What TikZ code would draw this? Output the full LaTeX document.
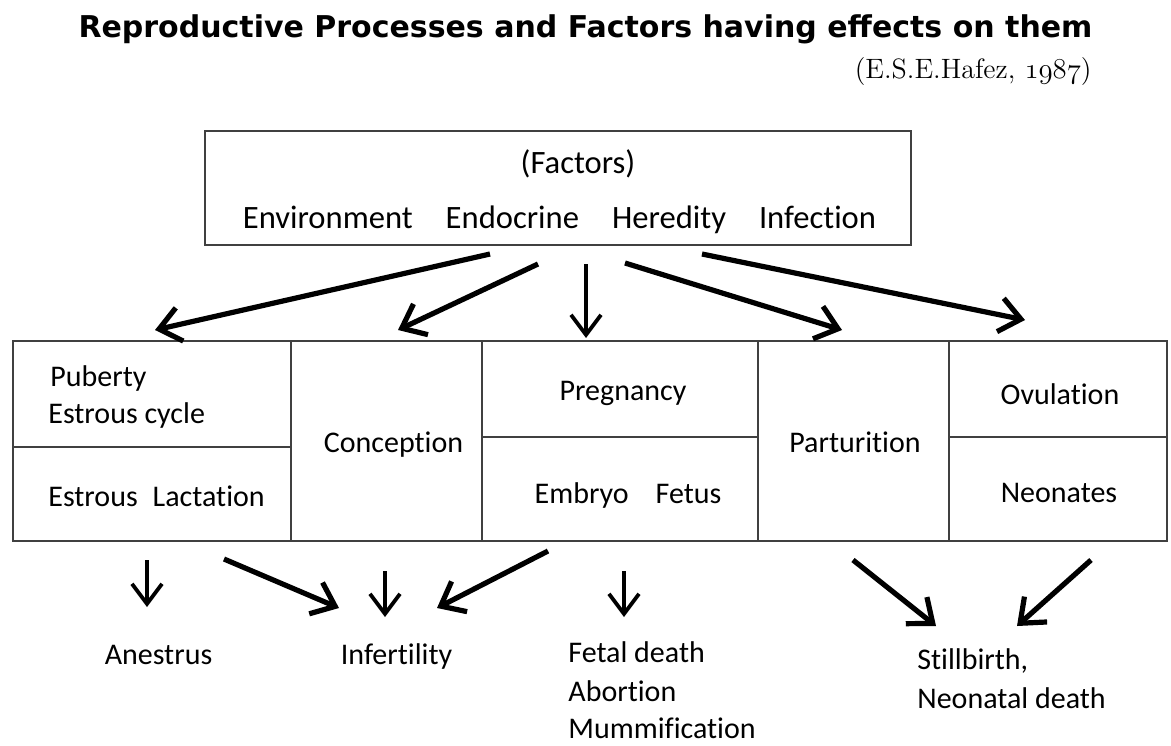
\documentclass[tikz,border=0pt]{standalone}
\usepackage{fontspec}
\newfontfamily\bodyfont{Carlito}[Ligatures=NoCommon]
\newfontfamily\headfont{DejaVu Sans}
\usepackage{tikz}
\usetikzlibrary{arrows.meta,positioning}
\tikzset{
    cell/.style={draw=black!75,line width=0.8pt,outer sep=0pt,inner sep=0pt},
    factorbox/.style={draw=black!75,line width=0.8pt,outer sep=0pt,inner sep=0pt,
        minimum width=353pt,minimum height=57pt},
    txt/.style={inner sep=0pt,font=\bodyfont\fontsize{15}{18}\selectfont},
    ftxt/.style={inner sep=0pt,font=\bodyfont\fontsize{16.3}{20}\selectfont},
    arr/.style={-{Straight Barb[length=10.5pt,width=17pt]},line width=2.6pt},
    arrv/.style={-{Straight Barb[length=10pt,width=15pt]},line width=1.9pt}
}

\begin{document}
\begin{tikzpicture}[x=0.5pt,y=-0.5pt]
    \useasboundingbox (0,0) rectangle (1171,745);

    % title
    \node[inner sep=0pt,anchor=base,font=\headfont\bfseries\fontsize{15}{18}\selectfont] (title) at (585.5,37)
        {Reproductive Processes and Factors having effects on them};
    \node[inner sep=0pt,anchor=base east,font=\fontsize{14}{17}\selectfont] (source) at (1092,78)
        {(E.S.E.Hafez, $\mathnormal{1987}$)};

    % factors
    \node[factorbox] (factors) at (558,188) {};
    \node[ftxt,anchor=base] (ftitle) at (578,173) {(Factors)};
    \node[ftxt,anchor=base] (flist) at (559.5,228)
        {Environment\hspace{16.5pt}Endocrine\hspace{16.5pt}Heredity\hspace{16.5pt}Infection};

    % processes
    \node[cell,minimum width=139pt,minimum height=53pt] (puberty) at (152,394) {};
    \node[cell,minimum width=139pt,minimum height=47pt,below=0pt of puberty] (lactation) {};
    \node[cell,minimum width=95.5pt,minimum height=100pt,anchor=north west] (conception) at (puberty.north east) {};
    \node[cell,minimum width=138pt,minimum height=48pt,anchor=north west] (pregnancy) at (conception.north east) {};
    \node[cell,minimum width=138pt,minimum height=52pt,below=0pt of pregnancy] (fetus) {};
    \node[cell,minimum width=95.5pt,minimum height=100pt,anchor=north west] (parturition) at (pregnancy.north east) {};
    \node[cell,minimum width=109pt,minimum height=48pt,anchor=north west] (ovulation) at (parturition.north east) {};
    \node[cell,minimum width=109pt,minimum height=52pt,below=0pt of ovulation] (neonates) {};

    \node[txt,anchor=base west] (tpub) at (50,386) {Puberty};
    \node[txt,anchor=base west] (tcyc) at (48,423) {Estrous cycle};
    \node[txt,anchor=base west] (tlac) at (48,506) {Estrous\hspace{7.5pt}Lactation};
    \node[txt,anchor=base] (tcon) at (393.5,452) {Conception};
    \node[txt,anchor=base] (tpre) at (623,400) {Pregnancy};
    \node[txt,anchor=base] (tfet) at (628,503) {Embryo\hspace{13.5pt}Fetus};
    \node[txt,anchor=base] (tpar) at (855,452) {Parturition};
    \node[txt,anchor=base] (tovu) at (1060,404) {Ovulation};
    \node[txt,anchor=base] (tneo) at (1059,502) {Neonates};

    % effects
    \node[txt,anchor=base] (anestrus) at (158.5,664) {Anestrus};
    \node[txt,anchor=base] (infertility) at (396.5,664) {Infertility};
    \node[txt,anchor=base west] (fetal) at (568,662) {Fetal death};
    \node[txt,anchor=base west] (abortion) at (568,701) {Abortion};
    \node[txt,anchor=base west] (mummy) at (568,738) {Mummification};
    \node[txt,anchor=base west] (still) at (917,669) {Stillbirth,};
    \node[txt,anchor=base west] (neodeath) at (917,708) {Neonatal death};

    % arrow ends
    \coordinate (a1s) at (490,254); \coordinate (a1e) at (155,330);
    \coordinate (a2s) at (538,264); \coordinate (a2e) at (398,330);
    \coordinate (a3s) at (586,264); \coordinate (a3e) at (586,338);
    \coordinate (a4s) at (625,263); \coordinate (a4e) at (842,330);
    \coordinate (a5s) at (702,254); \coordinate (a5e) at (1025,320);
    \coordinate (b1s) at (147,560); \coordinate (b1e) at (147,607);
    \coordinate (b2s) at (224,559); \coordinate (b2e) at (339,608);
    \coordinate (b3s) at (385,571); \coordinate (b3e) at (385,617);
    \coordinate (b4s) at (548,551); \coordinate (b4e) at (437,608);
    \coordinate (b5s) at (624,571); \coordinate (b5e) at (624,617);
    \coordinate (b6s) at (853,560); \coordinate (b6e) at (936,626);
    \coordinate (b7s) at (1091,560); \coordinate (b7e) at (1017,626);

    \draw[arr] (a1s) -- (a1e);
    \draw[arr] (a2s) -- (a2e);
    \draw[arrv] (a3s) -- (a3e);
    \draw[arr] (a4s) -- (a4e);
    \draw[arr] (a5s) -- (a5e);

    \draw[arrv] (b1s) -- (b1e);
    \draw[arr] (b2s) -- (b2e);
    \draw[arrv] (b3s) -- (b3e);
    \draw[arr] (b4s) -- (b4e);
    \draw[arrv] (b5s) -- (b5e);
    \draw[arr] (b6s) -- (b6e);
    \draw[arr] (b7s) -- (b7e);
\end{tikzpicture}
\end{document}
